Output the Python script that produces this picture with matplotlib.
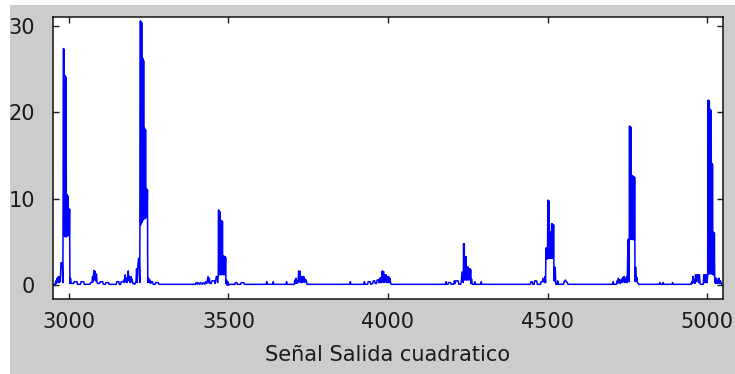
# %%
# Squared output signal: sparse bursts of energy along the sample axis
import numpy as np
import matplotlib.pyplot as plt
from matplotlib.patches import Rectangle

# %%
# samples and values, one pair of lists per burst (left to right)
a_t = [2950, 2957, 2959, 2961, 2963, 2965, 2967, 2969, 2971, 2973, 2975, 2979,
       2981, 2983, 2984, 2985, 2986, 2987, 2988, 2989, 2990, 2991, 2992, 2993,
       2994, 2995, 2996, 2997, 2998, 2999, 3000, 3001, 3002, 3003, 3005, 3007,
       3015, 3017, 3025, 3027, 3036, 3038, 3046, 3048]
a_y = [0.1, 0.1, 0.5, 0.2, 0.8, 0.4, 1.0, 0.3, 1.0, 0.4, 2.6, 2.6,
       0.3, 27.4, 5.8, 27.3, 6.0, 24.3, 5.6, 24.2, 5.7, 24.0, 5.6, 10.5,
       5.8, 10.4, 5.7, 10.3, 8.9, 5.8, 8.8, 5.9, 8.8, 0.2, 0.8, 0.2,
       0.2, 0.4, 0.4, 0.1, 0.1, 0.4, 0.4, 0.1]

b_t = [3060, 3066, 3068, 3072, 3074, 3076, 3078, 3080, 3082, 3084, 3086, 3088,
       3090, 3096, 3098, 3106, 3108, 3114, 3116, 3124, 3126]
b_y = [0.1, 0.1, 0.3, 0.3, 1.0, 0.4, 1.7, 0.6, 1.6, 0.5, 1.3, 0.3,
       0.2, 0.2, 0.4, 0.4, 0.1, 0.1, 0.3, 0.3, 0.1]

c_t = [3140, 3148, 3150, 3156, 3158, 3162, 3164, 3170, 3172, 3174, 3176, 3178,
       3180, 3182, 3184, 3186, 3188, 3190, 3192, 3194, 3196, 3198, 3200, 3204,
       3206, 3210, 3212, 3214, 3216, 3218, 3220, 3222, 3224, 3225, 3226, 3227,
       3228, 3229, 3230, 3231, 3232, 3233, 3234, 3235, 3236, 3237, 3238, 3239,
       3240, 3241, 3242, 3243, 3244, 3245, 3246, 3247, 3248, 3250, 3252, 3254,
       3256, 3258, 3262, 3264, 3270, 3272, 3280, 3282]
c_y = [0.1, 0.1, 0.4, 0.4, 0.1, 0.1, 0.4, 0.4, 0.6, 0.3, 1.2, 0.4,
       0.8, 0.3, 0.9, 1.65, 0.5, 1.0, 0.3, 1.0, 0.4, 0.7, 0.2, 0.2,
       0.1, 0.4, 1.9, 0.3, 2.1, 3.1, 3.1, 0.3, 30.6, 7.0, 30.5, 7.2,
       30.4, 7.3, 26.3, 7.5, 26.2, 7.6, 26.0, 7.7, 18.2, 7.7, 18.1, 7.8,
       18.0, 7.8, 11.2, 7.9, 11.1, 7.9, 11.0, 0.3, 0.8, 0.8, 0.3, 0.6,
       0.2, 0.4, 0.4, 0.1, 0.1, 0.3, 0.3, 0.1]

d_t = [3390, 3396, 3398, 3402, 3404, 3410, 3412, 3418, 3420, 3426, 3428, 3432,
       3434, 3436, 3438, 3440, 3442, 3446, 3448, 3456, 3458, 3460, 3462, 3464,
       3466, 3468, 3469, 3470, 3471, 3472, 3473, 3474, 3475, 3476, 3477, 3478,
       3479, 3480, 3481, 3482, 3483, 3484, 3485, 3486, 3487, 3488, 3489, 3490,
       3491, 3492, 3494, 3496, 3498, 3500, 3504, 3506, 3520, 3522, 3526, 3528,
       3538, 3540, 3548, 3550]
d_y = [0.1, 0.1, 0.3, 0.1, 0.3, 0.1, 0.3, 0.1, 0.3, 0.1, 0.4, 0.2,
       0.6, 1.0, 0.3, 0.8, 0.2, 0.2, 0.5, 0.5, 0.2, 0.6, 1.0, 1.0,
       0.3, 1.2, 8.7, 1.2, 8.6, 1.3, 8.5, 1.2, 7.5, 1.3, 7.5, 1.2,
       7.4, 1.3, 7.4, 1.3, 3.4, 1.2, 3.4, 1.3, 3.3, 1.2, 3.3, 1.3,
       3.2, 0.2, 0.6, 0.0, 0.4, 0.0, 0.1, 0.1, 0.1, 0.3, 0.3, 0.1,
       0.1, 0.3, 0.3, 0.1]

e_t = [3600, 3618, 3620, 3622, 3638, 3640, 3642, 3680, 3682, 3684, 3706, 3708,
       3710, 3712, 3714, 3716, 3718, 3720, 3722, 3724, 3726, 3728, 3730, 3732,
       3734, 3736, 3738, 3740, 3742, 3744, 3746]
e_y = [0.1, 0.1, 0.4, 0.1, 0.1, 0.4, 0.1, 0.1, 0.4, 0.1, 0.1, 0.6,
       0.2, 0.8, 0.2, 0.5, 0.3, 1.65, 0.4, 1.6, 0.3, 1.0, 0.3, 1.0,
       0.4, 1.0, 0.3, 0.7, 0.4, 0.6, 0.1]

f_t = [3870, 3880, 3882, 3884, 3924, 3926, 3928, 3936, 3938, 3944, 3946, 3952,
       3954, 3958, 3960, 3964, 3966, 3970, 3972, 3974, 3976, 3978, 3980, 3982,
       3984, 3986, 3988, 3990, 3992, 3994, 3996, 3998, 4000, 4002, 4004, 4006,
       4008, 4010]
f_y = [0.1, 0.1, 0.4, 0.1, 0.1, 0.4, 0.1, 0.1, 0.4, 0.4, 0.1, 0.2,
       0.5, 0.5, 0.2, 0.2, 0.6, 0.6, 0.3, 0.8, 0.3, 0.9, 0.3, 1.65,
       0.4, 1.6, 0.3, 1.2, 0.4, 1.2, 0.3, 1.0, 0.3, 1.0, 0.3, 0.8,
       0.3, 0.1]

g_t = [4180, 4182, 4184, 4188, 4190, 4196, 4198, 4206, 4208, 4210, 4212, 4220,
       4222, 4228, 4230, 4232, 4234, 4236, 4237, 4238, 4239, 4240, 4241, 4242,
       4243, 4244, 4245, 4246, 4247, 4248, 4249, 4250, 4251, 4252, 4253, 4254,
       4255, 4256, 4257, 4258, 4259, 4260, 4262, 4264, 4266, 4270, 4272, 4274,
       4276, 4290, 4292, 4294]
g_y = [0.1, 0.4, 0.1, 0.1, 0.3, 0.3, 0.1, 0.1, 0.5, 0.2, 0.5, 0.5,
       0.1, 0.1, 0.5, 1.5, 1.5, 0.3, 4.8, 0.6, 4.8, 0.7, 3.3, 0.6,
       3.3, 0.7, 3.3, 0.6, 2.1, 0.7, 2.1, 0.6, 2.1, 0.7, 1.9, 0.6,
       1.9, 0.7, 1.9, 0.6, 1.8, 0.2, 0.7, 0.1, 0.1, 0.1, 0.4, 0.1,
       0.1, 0.1, 0.4, 0.1]

h_t = [4440, 4446, 4448, 4452, 4454, 4458, 4460, 4466, 4468, 4478, 4480, 4484,
       4486, 4490, 4492, 4494, 4495, 4496, 4497, 4498, 4499, 4500, 4501, 4502,
       4503, 4504, 4505, 4506, 4507, 4508, 4509, 4510, 4511, 4512, 4513, 4514,
       4515, 4516, 4517, 4518, 4519, 4520, 4521, 4522, 4523, 4524, 4526, 4530,
       4532, 4534, 4550, 4552, 4556, 4558, 4562, 4564]
h_y = [0.1, 0.1, 0.4, 0.4, 0.1, 0.1, 0.5, 0.5, 0.1, 0.1, 0.4, 0.4,
       0.8, 0.3, 1.0, 0.3, 4.3, 3.0, 4.3, 3.0, 4.2, 3.1, 9.85, 3.2,
       9.8, 3.1, 9.7, 3.2, 6.2, 3.1, 6.2, 3.2, 6.1, 3.1, 7.1, 3.2,
       7.1, 3.1, 7.0, 3.2, 7.0, 2.1, 0.5, 2.1, 0.5, 2.0, 0.1, 0.1,
       0.5, 0.1, 0.1, 0.4, 0.6, 0.4, 0.3, 0.1]

i_t = [4700, 4704, 4706, 4708, 4716, 4718, 4720, 4722, 4724, 4726, 4728, 4730,
       4732, 4734, 4736, 4738, 4740, 4742, 4744, 4746, 4748, 4750, 4752, 4754,
       4756, 4757, 4758, 4759, 4760, 4761, 4762, 4763, 4764, 4765, 4766, 4767,
       4768, 4769, 4770, 4771, 4772, 4773, 4774, 4775, 4776, 4778, 4780, 4782,
       4784, 4786, 4850, 4852, 4854, 4860, 4862, 4864, 4890, 4892, 4894]
i_y = [0.1, 0.1, 0.4, 0.1, 0.1, 0.5, 0.2, 0.8, 0.3, 0.6, 0.2, 0.5,
       0.7, 0.3, 0.9, 0.4, 1.0, 0.3, 0.8, 0.4, 1.0, 0.3, 5.3, 5.3,
       0.4, 18.4, 5.3, 18.4, 5.3, 18.3, 5.3, 12.7, 5.3, 12.7, 5.3, 12.6,
       5.3, 12.6, 5.3, 12.5, 5.2, 12.5, 2.1, 0.4, 2.1, 0.5, 0.9, 0.3,
       0.2, 0.1, 0.1, 0.3, 0.1, 0.1, 0.3, 0.1, 0.1, 0.3, 0.1]

j_t = [4940, 4950, 4952, 4954, 4956, 4958, 4960, 4962, 4964, 4966, 4968, 4970,
       4972, 4974, 4976, 4978, 4980, 4988, 4990, 4992, 4994, 4996, 4998, 5000,
       5002, 5003, 5004, 5005, 5006, 5007, 5008, 5009, 5010, 5011, 5012, 5013,
       5014, 5015, 5016, 5017, 5018, 5019, 5020, 5021, 5022, 5023, 5024, 5026,
       5028, 5030, 5034, 5036, 5038, 5040, 5042, 5046]
j_y = [0.1, 0.1, 0.4, 0.2, 1.0, 0.3, 0.6, 0.2, 1.2, 0.4, 1.2, 0.5,
       1.2, 0.3, 1.2, 0.2, 0.1, 0.1, 1.2, 0.3, 1.2, 0.3, 1.2, 0.3,
       1.2, 21.4, 1.3, 21.4, 1.3, 21.3, 1.4, 20.4, 1.3, 20.3, 1.4, 20.2,
       1.3, 14.1, 1.4, 14.0, 1.3, 6.2, 1.2, 6.1, 1.2, 6.0, 0.3, 0.8,
       0.2, 0.8, 0.2, 0.4, 0.8, 0.2, 0.5, 0.1]

x_ticks = [3000, 3500, 4000, 4500, 5000]
y_ticks = [0, 10, 20, 30]

# %%
bursts = [(a_t, a_y), (b_t, b_y), (c_t, c_y), (d_t, d_y), (e_t, e_y),
          (f_t, f_y), (g_t, g_y), (h_t, h_y), (i_t, i_y), (j_t, j_y)]
for t, y in bursts:
    assert len(t) == len(y)
t_all = np.concatenate([t for t, _ in bursts])
y_all = np.concatenate([y for _, y in bursts])

plt.rcParams['font.family'] = 'DejaVu Sans'

fig = plt.figure(figsize=(7.35, 3.74), dpi=100, facecolor='white')
# grey window area, leaving a thin white strip on the left and top
fig.patches.append(Rectangle((10 / 735, 0), 1, 1 - 5 / 374,
                             transform=fig.transFigure, facecolor='#cccccc',
                             edgecolor='none', zorder=-1))

ax = fig.add_axes([53 / 735, 75 / 374, 670 / 735, 282 / 374])
ax.plot(t_all, y_all, color='#0000ff', lw=1.1)

ax.set_xlim(2950, 5050)
ax.set_ylim(-1.6, 31.05)
ax.set_xticks(x_ticks)
ax.set_yticks(y_ticks)
ax.tick_params(direction='in', length=4.5, width=1, top=True, right=True,
               labelsize=15, colors='#1a1a1a')
ax.tick_params(axis='x', pad=9)
ax.tick_params(axis='y', pad=13)
for side in ax.spines.values():
    side.set_linewidth(1.1)
    side.set_color('#111111')
ax.set_xlabel('Señal Salida cuadratico', fontsize=15, color='#1a1a1a',
              labelpad=10)

fig.savefig('out.png', dpi=100, facecolor=fig.get_facecolor())
